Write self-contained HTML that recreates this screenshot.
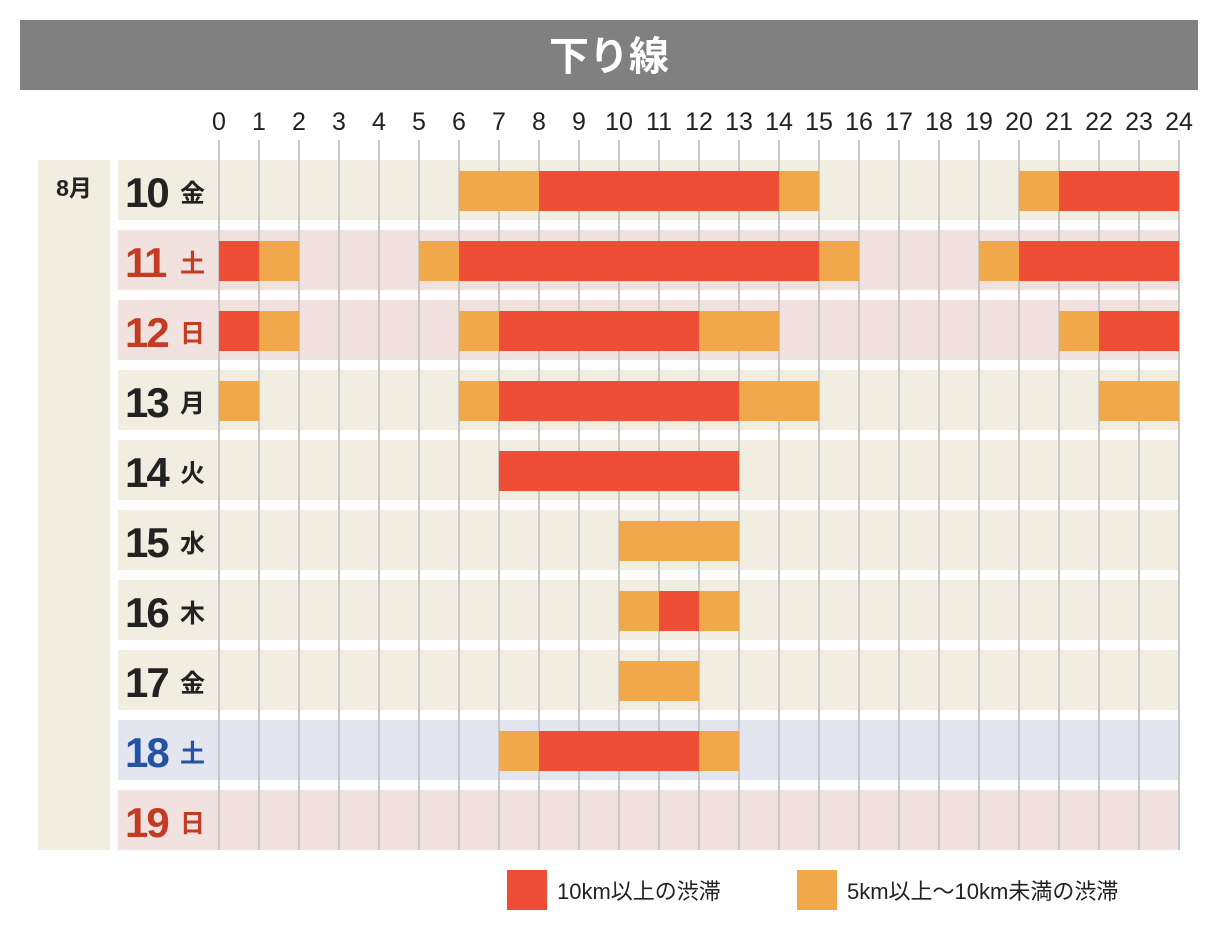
<!DOCTYPE html>
<html><head><meta charset="utf-8"><style>
body{margin:0;background:#fff;width:1218px;height:940px;overflow:hidden;font-family:"Liberation Sans","Noto Sans CJK JP",sans-serif}
</style></head><body>
<svg width="1218" height="940" xmlns="http://www.w3.org/2000/svg" id="chart" style="font-family:'Liberation Sans','Noto Sans CJK JP',sans-serif">
<rect x="20" y="20" width="1178" height="70" fill="#808080"/>
<text x="609" y="70" text-anchor="middle" font-size="40" font-weight="bold" fill="#fff">下り線</text>
<rect x="38" y="160" width="72" height="690" fill="#f1ede1"/>
<text x="74" y="196" text-anchor="middle" font-size="23" font-weight="bold" fill="#222">8月</text>
<g id="rows"></g><g id="grid"></g><g id="bars"></g><g id="labels"></g>
<rect x="507" y="870" width="40" height="40" fill="#ee4e35"/>
<text x="557" y="899" font-size="22" fill="#222">10km以上の渋滞</text>
<rect x="797" y="870" width="40" height="40" fill="#f1a84a"/>
<text x="847" y="899" font-size="22" fill="#222">5km以上～10km未満の渋滞</text>
</svg>
<script>
const days=["10","11","12","13","14","15","16","17","18","19"];
const weekdays=["金","土","日","月","火","水","木","金","土","日"];
const dayTypes=["w","h","h","w","w","w","w","w","s","h"];
const hourTicks=[0,1,2,3,4,5,6,7,8,9,10,11,12,13,14,15,16,17,18,19,20,21,22,23,24];
// [dayIndex, start, end, level] level 2 = 10km+, 1 = 5-10km
const segments=[
[0,6,8,1],[0,8,14,2],[0,14,15,1],[0,20,21,1],[0,21,24,2],
[1,0,1,2],[1,1,2,1],[1,5,6,1],[1,6,15,2],[1,15,16,1],[1,19,20,1],[1,20,24,2],
[2,0,1,2],[2,1,2,1],[2,6,7,1],[2,7,12,2],[2,12,14,1],[2,21,22,1],[2,22,24,2],
[3,0,1,1],[3,6,7,1],[3,7,13,2],[3,13,15,1],[3,22,24,1],
[4,7,13,2],
[5,10,13,1],
[6,10,11,1],[6,11,12,2],[6,12,13,1],
[7,10,12,1],
[8,7,8,1],[8,8,12,2],[8,12,13,1]
];
const NS="http://www.w3.org/2000/svg";
const X=h=>219+h*40;
const Y=i=>160+i*70;
const bg={w:"#f1ede1",h:"#f1e2e0",s:"#e3e6ef"};
const tc={w:"#222",h:"#c23b22",s:"#2452a4"};
function mk(t,a,p){const e=document.createElementNS(NS,t);for(const k in a)e.setAttribute(k,a[k]);document.getElementById(p).appendChild(e);return e;}
days.forEach((d,i)=>{
 const r=mk("rect",{x:118,y:Y(i),width:1061,height:60,fill:bg[dayTypes[i]]},"rows");
 
 
 const t=mk("text",{x:125,y:Y(i)+47,"font-size":42,"font-weight":"bold",fill:tc[dayTypes[i]],"letter-spacing":"-2"},"labels");
 t.textContent=d;
 
 
 const w=mk("text",{x:180,y:Y(i)+42,"font-size":25,"font-weight":"bold",fill:tc[dayTypes[i]]},"labels");
 w.textContent=weekdays[i];
 
 
});
hourTicks.forEach(h=>{
 const l=mk("line",{x1:X(h),x2:X(h),y1:140,y2:850,stroke:"#c8c8c8","stroke-width":2},"grid");
 
 
 const t=mk("text",{x:X(h),y:130,"text-anchor":"middle","font-size":25,fill:"#222"},"labels");
 t.textContent=h;
 
 
});
segments.forEach(s=>{
 const b=mk("rect",{x:X(s[1]),y:Y(s[0])+11,width:X(s[2])-X(s[1]),height:40,fill:s[3]==2?"#ee4e35":"#f1a84a"},"bars");
 
 
});
</script>
</body></html>
